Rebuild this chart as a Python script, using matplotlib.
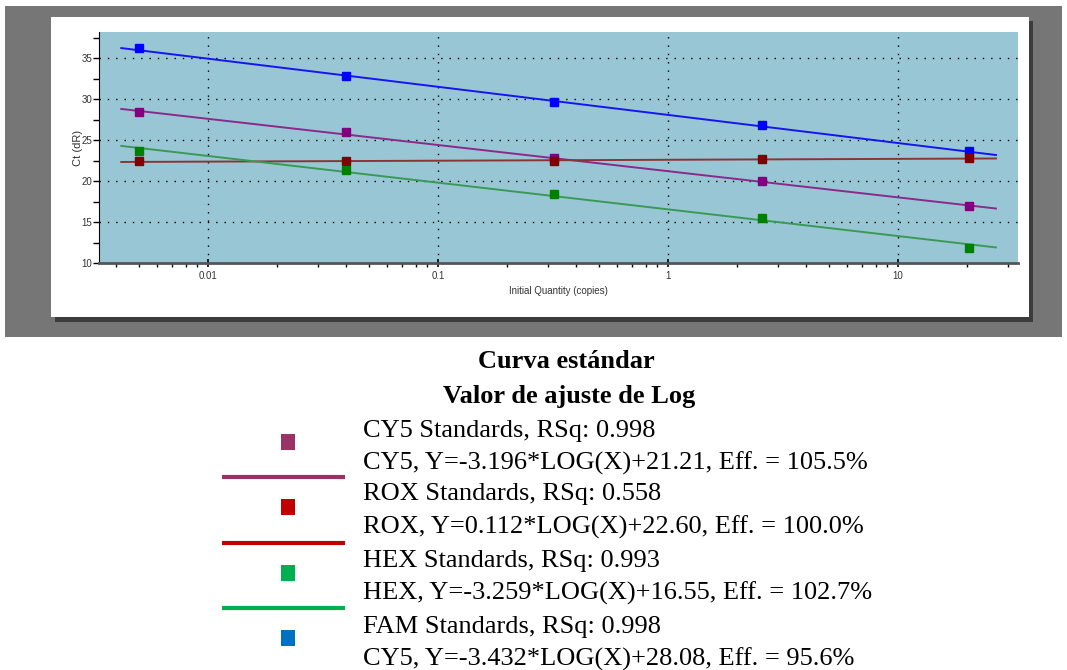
import numpy as np
import matplotlib
matplotlib.use("Agg")
import matplotlib.pyplot as plt
from matplotlib.patches import Rectangle
from matplotlib.ticker import FixedLocator, FuncFormatter

# standards (8-fold dilution series) and Ct values
conc = [0.005, 0.04, 0.32, 2.56, 20.48]
fam_ct = [36.3, 32.8, 29.7, 26.9, 23.7]
cy5_ct = [28.45, 26.05, 22.85, 20.05, 16.9]
rox_ct = [22.5, 22.5, 22.4, 22.7, 22.85]
hex_ct = [23.65, 21.4, 18.45, 15.55, 11.85]

# fit lines (slope, intercept) from the legend
fam_fit = (-3.432, 28.08)
cy5_fit = (-3.196, 21.21)
rox_fit = (0.112, 22.60)
hex_fit = (-3.259, 16.55)
fit_range = [0.0042, 26.7]

xticks = [0.01, 0.1, 1, 10]
xticklabels = ["0.01", "0.1", "1", "10"]

legend_title = ["Curva estándar", "Valor de ajuste de Log"]
legend_rows = [
    "CY5 Standards, RSq: 0.998",
    "CY5, Y=-3.196*LOG(X)+21.21, Eff. = 105.5%",
    "ROX Standards, RSq: 0.558",
    "ROX, Y=0.112*LOG(X)+22.60, Eff. = 100.0%",
    "HEX Standards, RSq: 0.993",
    "HEX, Y=-3.259*LOG(X)+16.55, Eff. = 102.7%",
    "FAM Standards, RSq: 0.998",
    "CY5, Y=-3.432*LOG(X)+28.08, Eff. = 95.6%",
]
legend_colors = ["#993366", "#C00000", "#00B050", "#0070C0"]

W, H = 1067, 670
fig = plt.figure(figsize=(W / 100, H / 100), dpi=100)
fig.patch.set_facecolor("white")

# background / frame drawn in pixel space
bg = fig.add_axes([0, 0, 1, 1], zorder=0)
bg.set_xlim(0, W)
bg.set_ylim(H, 0)
bg.axis("off")
bg.add_patch(Rectangle((5, 6), 1057, 331, facecolor="#767676", edgecolor="none"))
bg.add_patch(Rectangle((55, 21), 978, 301, facecolor="#3c3c3c", edgecolor="none"))
bg.add_patch(Rectangle((51, 17), 978, 300, facecolor="white", edgecolor="none"))

# chart
L, R, T, B = 99, 1018, 32, 263
ax = fig.add_axes([L / W, 1 - B / H, (R - L) / W, (B - T) / H], zorder=2)
ax.set_facecolor("#99C6D5")
ax.set_xscale("log")
ax.set_xlim(0.00336, 33.3)
ax.set_ylim(10, 38.2)

series = [
    (fam_ct, fam_fit, "#0000FF", "#1515F0"),
    (cy5_ct, cy5_fit, "#800080", "#8A2A8A"),
    (rox_ct, rox_fit, "#800000", "#8A3535"),
    (hex_ct, hex_fit, "#008000", "#3A9A55"),
]
fx = np.array(fit_range)
for ct, (m, b), mcol, lcol in series:
    ax.plot(fx, b + m * np.log10(fx), color=lcol, lw=1.4, zorder=3)
    ax.plot(conc, ct, "s", color=mcol, ms=5.8, mec=mcol, zorder=4)

ax.xaxis.set_major_locator(FixedLocator(xticks))
ax.xaxis.set_major_formatter(FuncFormatter(lambda v, p: xticklabels[xticks.index(v)] if v in xticks else ""))
ax.set_yticks([10, 15, 20, 25, 30, 35])
ax.set_yticks(np.arange(12.5, 38.2, 5), minor=True)
ax.grid(True, which="major", color="black", linestyle=(0, (1, 5)), lw=1)

for s in ["top", "right"]:
    ax.spines[s].set_visible(False)
ax.spines["left"].set_color("black")
ax.spines["bottom"].set_color("#555555")
ax.spines["bottom"].set_linewidth(2)

ax.tick_params(axis="y", which="both", direction="out", length=4, width=1, pad=1, labelsize=7, labelcolor="#333333")
ax.tick_params(axis="x", which="major", direction="inout", length=6, width=1.2, pad=3, labelsize=7, labelcolor="#333333")
ax.tick_params(axis="x", which="minor", direction="out", length=3, width=1)
for lab in ax.get_xticklabels() + ax.get_yticklabels():
    lab.set_family("Liberation Sans")
ax.set_xlabel("Initial Quantity (copies)", family="Liberation Sans", size=7, color="#333333", labelpad=3)
ax.set_ylabel("Ct (dR)", family="Liberation Sans", size=8, color="#333333", labelpad=-1)

# legend below the chart
serif = "Liberation Serif"
bg.text(566, 362, legend_title[0], ha="center", va="center", family=serif, size=19, weight="bold")
bg.text(569, 396, legend_title[1], ha="center", va="center", family=serif, size=19, weight="bold")
row_y = [431, 463, 494, 527, 561, 593, 627, 659]
for txt, y in zip(legend_rows, row_y):
    bg.text(363, y, txt, ha="left", va="center", family=serif, size=19)
marker_y = [442, 507, 573, 638]
for col, y in zip(legend_colors, marker_y):
    bg.add_patch(Rectangle((281, y - 8), 14, 16, facecolor=col, edgecolor="none"))
line_y = [477, 543, 608]
for col, y in zip(legend_colors[:3], line_y):
    bg.plot([222, 345], [y, y], color=col, lw=3, solid_capstyle="butt")

fig.savefig("out.png", dpi=100)
